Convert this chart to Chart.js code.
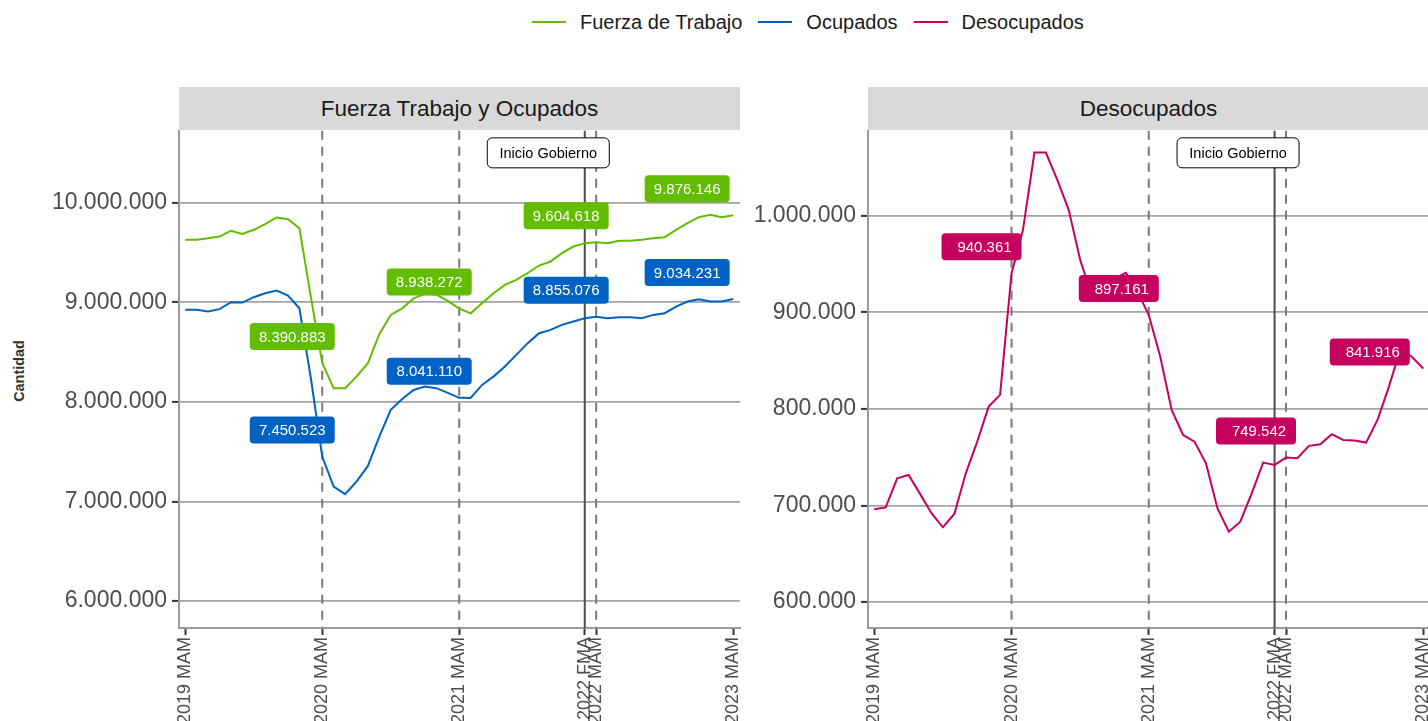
<!DOCTYPE html>
<html>
<head>
<meta charset="utf-8">
<script src="https://cdn.jsdelivr.net/npm/chart.js@4.4.1/dist/chart.umd.min.js"></script>
<style>
  body { margin: 0; width: 1428px; height: 721px; overflow: hidden; position: relative; background: #fff;
         font-family: "Liberation Sans", Arial, sans-serif; }
  #legend { position: absolute; left: 532px; top: 10px; height: 24px; display: flex; align-items: center;
            font-size: 20px; color: #1a1a1a; white-space: nowrap; }
  #legend .key { display: inline-block; width: 34px; height: 2px; margin-right: 14px; }
  #legend .lab { margin-right: 16px; }
  .strip { position: absolute; top: 87px; height: 43px; line-height: 43px; background: #d9d9d9;
           text-align: center; font-size: 22.5px; color: #1a1a1a; }
  #ytitle { position: absolute; left: 19px; top: 371px; transform: translate(-50%, -50%) rotate(-90deg);
            font-size: 14.4px; font-weight: bold; color: #333; white-space: nowrap; }
  canvas { position: absolute; top: 112px; }
</style>
</head>
<body>

<div id="legend"></div>
<div class="strip" style="left:179px; width:561px;">Fuerza Trabajo y Ocupados</div>
<div class="strip" style="left:868px; width:561px;">Desocupados</div>
<div id="ytitle">Cantidad</div>
<canvas id="chartFT" width="760" height="609" style="left:0px;"></canvas>
<canvas id="chartDes" width="707" height="609" style="left:740px;"></canvas>

<script>
// --- DATOS ---
const periodos = [
  '2019 MAM','2019 AMJ','2019 MJJ','2019 JJA','2019 JAS','2019 ASO','2019 SON','2019 OND','2019 NDE','2020 DEF','2020 EFM','2020 FMA',
  '2020 MAM','2020 AMJ','2020 MJJ','2020 JJA','2020 JAS','2020 ASO','2020 SON','2020 OND','2020 NDE','2021 DEF','2021 EFM','2021 FMA',
  '2021 MAM','2021 AMJ','2021 MJJ','2021 JJA','2021 JAS','2021 ASO','2021 SON','2021 OND','2021 NDE','2022 DEF','2022 EFM','2022 FMA',
  '2022 MAM','2022 AMJ','2022 MJJ','2022 JJA','2022 JAS','2022 ASO','2022 SON','2022 OND','2022 NDE','2023 DEF','2023 EFM','2023 FMA',
  '2023 MAM'
];

const fuerzaTrabajo = [
  9628000, 9628000, 9645000, 9661000, 9719000, 9688000, 9729000, 9786000, 9853000, 9836000, 9745000, 9055000,
  8390883, 8138000, 8138000, 8254000, 8389000, 8680000, 8874000, 8940000, 9040000, 9085000, 9079000, 9015000,
  8938272, 8890000, 8992000, 9092000, 9176000, 9226000, 9295000, 9370000, 9410000, 9494000, 9561000, 9595000,
  9604618, 9595000, 9618000, 9618000, 9628000, 9645000, 9655000, 9729000, 9796000, 9856000, 9879000, 9856000,
  9876146
];

const ocupados = [
  8925000, 8925000, 8908000, 8932000, 9002000, 8998000, 9052000, 9092000, 9119000, 9068000, 8941000, 8240000,
  7450523, 7149000, 7073000, 7199000, 7357000, 7651000, 7920000, 8030000, 8120000, 8155000, 8138000, 8090000,
  8041110, 8040000, 8171000, 8254000, 8355000, 8472000, 8590000, 8690000, 8724000, 8774000, 8807000, 8841000,
  8855076, 8841000, 8851000, 8851000, 8841000, 8874000, 8891000, 8958000, 9008000, 9032000, 9008000, 9008000,
  9034231
];

const desocupados = [
  696000, 698000, 728000, 731600, 712000, 692000, 677400, 691200, 733300, 766100, 802400, 814500,
  940361, 985500, 1065600, 1065600, 1037300, 1006200, 954400, 918000, 925000, 935000, 941000, 922000,
  897161, 854200, 798900, 773000, 766100, 743700, 697100, 672800, 683200, 712600, 744400, 742000,
  749542, 748900, 761700, 763400, 773800, 767900, 767200, 765100, 788600, 823100, 862000, 854000,
  841916
];

const ticksX = [0, 12, 24, 35, 36, 48];           // posiciones de etiquetas del eje X
const ticksFT = [6000000, 7000000, 8000000, 9000000, 10000000];
const ticksDes = [600000, 700000, 800000, 900000, 1000000];
const lineasAnuales = [12, 24, 36];              // MAM de cada año (discontinuas)
const inicioGobierno = 35;                        // 2022 FMA
const idxEtiquetas = [12, 24, 36, 48];

const COL_FT = '#62bd00', COL_OC = '#0062c4', COL_DES = '#c6005e';
const FONT = '"Liberation Sans", Arial, sans-serif';
Chart.defaults.font.family = FONT;

const fmt = v => String(Math.round(v)).replace(/\B(?=(\d{3})+(?!\d))/g, '.');
const serie = arr => arr.map((v, i) => ({ x: i, y: v }));

// --- LEYENDA ---
document.getElementById('legend').innerHTML = [
  ['Fuerza de Trabajo', COL_FT], ['Ocupados', COL_OC], ['Desocupados', COL_DES]
].map(([t, c]) => `<span class="key" style="background:${c}"></span><span class="lab">${t}</span>`).join('');

// --- PLUGIN: líneas verticales y "Inicio Gobierno" ---
const marcasPlugin = {
  id: 'marcas',
  beforeDatasetsDraw(chart) {
    const { ctx, chartArea: a, scales: { x } } = chart;
    ctx.save();
    ctx.lineWidth = 2;
    ctx.strokeStyle = '#7a7a7a';
    ctx.setLineDash([9, 7]);
    lineasAnuales.forEach(i => {
      const px = x.getPixelForValue(i);
      ctx.beginPath(); ctx.moveTo(px, a.top); ctx.lineTo(px, a.bottom); ctx.stroke();
    });
    ctx.setLineDash([]);
    ctx.strokeStyle = '#4d4d4d';
    const pg = x.getPixelForValue(inicioGobierno);
    ctx.beginPath(); ctx.moveTo(pg, a.top); ctx.lineTo(pg, a.bottom); ctx.stroke();
    ctx.restore();
  },
  afterDatasetsDraw(chart, args, opts) {
    const { ctx, scales: { x, y } } = chart;
    // etiquetas de valores
    ctx.save();
    ctx.font = '15px ' + FONT;
    ctx.textAlign = 'center';
    ctx.textBaseline = 'middle';
    (opts.items || []).forEach(it => {
      const ds = chart.data.datasets[it.ds];
      const v = ds.data[it.i].y;
      const cx = x.getPixelForValue(it.i) + it.dx;
      const cy = y.getPixelForValue(v) + it.dy;
      const w = opts.boxW, h = 27;
      ctx.fillStyle = ds.borderColor;
      ctx.beginPath(); ctx.roundRect(cx - w / 2, cy - h / 2, w, h, 4); ctx.fill();
      ctx.fillStyle = '#ffffff';
      ctx.fillText(fmt(v), cx + (opts.textShift || 0), cy + 1);
    });
    // caja Inicio Gobierno
    const gx = x.getPixelForValue(inicioGobierno) - 36.5;
    const gy = y.getPixelForValue(opts.gobY);
    ctx.fillStyle = '#ffffff';
    ctx.strokeStyle = '#000000';
    ctx.lineWidth = 1;
    ctx.beginPath(); ctx.roundRect(gx - 61, gy - 15, 122, 30, 5); ctx.fill(); ctx.stroke();
    ctx.fillStyle = '#000000';
    ctx.font = '14.5px ' + FONT;
    ctx.fillText('Inicio Gobierno', gx, gy + 1);
    ctx.restore();
  }
};

function ejes(yMin, yMax, yTicks, yWidth) {
  return {
    x: {
      type: 'linear', min: -0.55, max: 48.6,
      afterBuildTicks: s => { s.ticks = ticksX.map(v => ({ value: v })); },
      afterFit: s => { s.height = 93; },
      ticks: { autoSkip: false, minRotation: 90, maxRotation: 90, padding: 2, color: '#4d4d4d',
               font: { size: 18 }, callback: v => periodos[v] },
      grid: { drawOnChartArea: false, drawTicks: true, tickLength: 7, tickColor: '#333333', tickWidth: 2 },
      border: { display: true, color: '#9a9a9a', width: 2 }
    },
    y: {
      min: yMin, max: yMax,
      afterBuildTicks: s => { s.ticks = yTicks.map(v => ({ value: v })); },
      afterFit: s => { s.width = yWidth; },
      ticks: { color: '#4d4d4d', font: { size: 23 }, padding: 5, callback: v => fmt(v) },
      grid: { color: '#a3a3a3', lineWidth: 1.8, tickLength: 7, tickColor: '#333333', tickWidth: 2 },
      border: { display: true, color: '#9a9a9a', width: 2 }
    }
  };
}

const linea = (label, arr, color) => ({
  label, data: serie(arr), borderColor: color, backgroundColor: color,
  borderWidth: 2, pointRadius: 0, tension: 0, fill: false
});

// --- PANEL IZQUIERDO ---
new Chart(document.getElementById('chartFT'), {
  type: 'line',
  data: { datasets: [linea('Fuerza de Trabajo', fuerzaTrabajo, COL_FT), linea('Ocupados', ocupados, COL_OC)] },
  options: {
    responsive: false, animation: false, devicePixelRatio: 1,
    layout: { padding: { top: 0, right: 20, bottom: 0, left: 0 } },
    plugins: {
      legend: { display: false }, tooltip: { enabled: false },
      marcas: {
        boxW: 85, textShift: 0, gobY: 10502000,
        items: idxEtiquetas.flatMap(i => [0, 1].map(ds => ({
          ds, i, dx: i === 48 ? -46 : -30, dy: -26.5
        })))
      }
    },
    scales: ejes(5728600, 10723600, ticksFT, 179)
  },
  plugins: [marcasPlugin]
});

// --- PANEL DERECHO ---
new Chart(document.getElementById('chartDes'), {
  type: 'line',
  data: { datasets: [linea('Desocupados', desocupados, COL_DES)] },
  options: {
    responsive: false, animation: false, devicePixelRatio: 1,
    layout: { padding: { top: 0, right: 11, bottom: 0, left: 0 } },
    plugins: {
      legend: { display: false }, tooltip: { enabled: false },
      marcas: {
        boxW: 80, textShift: 3, gobY: 1065280,
        items: idxEtiquetas.map(i => ({
          ds: 0, i, dx: i === 48 ? -53.5 : -30, dy: i === 48 ? -16.4 : -26.6
        }))
      }
    },
    scales: ejes(573050, 1088080, ticksDes, 128)
  },
  plugins: [marcasPlugin]
});
</script>
</body>
</html>
